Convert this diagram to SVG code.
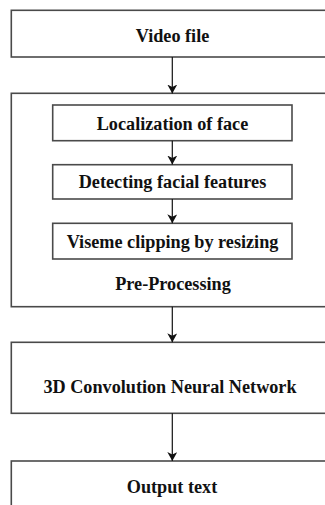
<svg xmlns="http://www.w3.org/2000/svg" width="325" height="505" viewBox="0 0 325 505">
  <style>
    .box { fill: #ffffff; stroke: #4a4a4a; stroke-width: 1.6; }
    .lbl { font-family: "Liberation Serif", "Times New Roman", serif; font-weight: bold; font-size: 18.2px; fill: #111111; text-anchor: middle; }
    .edge { stroke: #111111; stroke-width: 1.2; fill: none; marker-end: url(#head); }
  </style>
  <defs>
    <marker id="head" viewBox="0 0 9 10" refX="9" refY="5" markerWidth="9" markerHeight="10" markerUnits="userSpaceOnUse" orient="auto">
      <path d="M0,0 L9,5 L0,10 L2.5,5 Z" fill="#111111"/>
    </marker>
  </defs>
  <rect width="325" height="505" fill="#ffffff"/>

  <g id="video-file">
    <rect class="box" x="11.3" y="10.3" width="340" height="46.7"/>
    <text class="lbl" x="172.5" y="41.5">Video file</text>
  </g>

  <g id="pre-processing">
    <rect class="box" x="11.3" y="93.3" width="340" height="213.4"/>
    <text class="lbl" x="173" y="290">Pre-Processing</text>
  </g>

  <g id="localization">
    <rect class="box" x="52.7" y="105" width="239.3" height="35.7"/>
    <text class="lbl" x="172.5" y="129.5">Localization of face</text>
  </g>

  <g id="facial-features">
    <rect class="box" x="52.7" y="164.7" width="239.3" height="34.3"/>
    <text class="lbl" x="172.5" y="188">Detecting facial features</text>
  </g>

  <g id="viseme-clipping">
    <rect class="box" x="52.7" y="223.3" width="239.3" height="35.7"/>
    <text class="lbl" x="172.5" y="247.5">Viseme clipping by resizing</text>
  </g>

  <g id="cnn">
    <rect class="box" x="11.3" y="342.3" width="340" height="71"/>
    <text class="lbl" x="170" y="393">3D Convolution Neural Network</text>
  </g>

  <g id="output-text">
    <rect class="box" x="11.3" y="461" width="340" height="60"/>
    <text class="lbl" x="172" y="493">Output text</text>
  </g>

  <g id="connectors">
    <line class="edge" x1="172.3" y1="57" x2="172.3" y2="93.5"/>
    <line class="edge" x1="172.3" y1="140.7" x2="172.3" y2="164.5"/>
    <line class="edge" x1="172.3" y1="199" x2="172.3" y2="223.3"/>
    <line class="edge" x1="172.3" y1="306.7" x2="172.3" y2="342.3"/>
    <line class="edge" x1="172.3" y1="413.3" x2="172.3" y2="461"/>
  </g>
</svg>
